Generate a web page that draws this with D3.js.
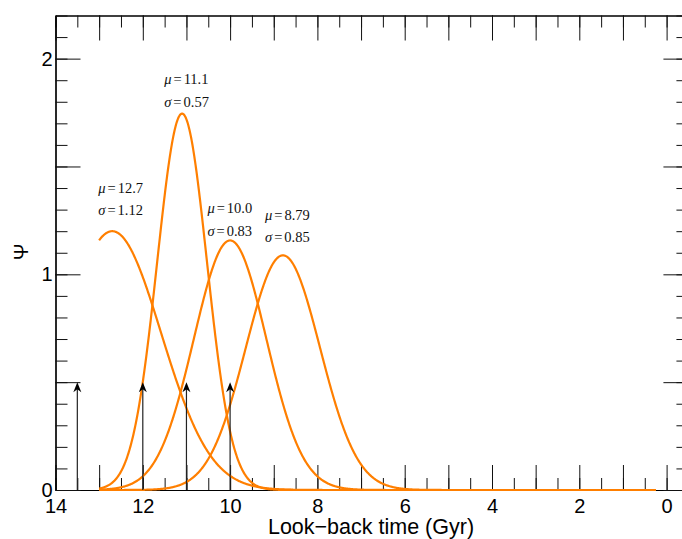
<!DOCTYPE html>
<html>
<head>
<meta charset="utf-8">
<script src="https://cdn.jsdelivr.net/npm/d3@7"></script>
<style>
  body { margin: 0; background: #fff; }
  svg { display: block; }
</style>
</head>
<body>
<svg id="chart" width="682" height="539"></svg>
<script>
// Gaussian star-formation components (look-back time in Gyr)
const mu = [12.7, 11.1, 10.0, 8.79];
const sigma = [1.12, 0.57, 0.83, 0.85];
const peak = [1.20, 1.745, 1.157, 1.088];
const muLabels = ["12.7", "11.1", "10.0", "8.79"];
const sigmaLabels = ["1.12", "0.57", "0.83", "0.85"];

// burst markers
const arrowAges = [13.5, 12, 11, 10];
const arrowHeight = 0.5;

// time span covered by the model curves
const tStart = 13.0;
const tEnd = 0.25;

const xTickLabels = [14, 12, 10, 8, 6, 4, 2, 0];
const yTickLabels = [0, 1, 2];

// annotation anchors (data units: time, Psi of the first text line)
const labelAnchor = [[13.02, 1.378], [11.51, 1.881], [10.52, 1.282], [9.20, 1.254]];

const svg = d3.select("#chart");
const plotLeft = 55.5, plotBottom = 490, plotTop = 15.5;
const pxPerGyr = 43.65;

const x = d3.scaleLinear().domain([14, -0.5]).range([plotLeft, plotLeft + 14.5 * pxPerGyr]);
const y = d3.scaleLinear().domain([0, 2.2]).range([plotBottom, plotTop]);

const xMajor = d3.range(0, 15, 1);
const xMinor = d3.range(-0.5, 14.01, 0.5);
const yMajor = d3.range(0, 2.21, 0.5);
const yMinor = d3.range(0, 2.21, 0.1);

const tickFont = "Liberation Sans, Arial, Helvetica, sans-serif";

function styleAxis(g) {
  g.selectAll("path.domain").attr("stroke", "#000").attr("stroke-width", 1.2);
  g.selectAll(".tick line").attr("stroke", "#111").attr("stroke-width", 1);
  g.selectAll(".tick text").attr("fill", "#000")
    .style("font-family", tickFont).style("font-size", "20px");
}

const xRight = x(-0.5);

// bottom axis
svg.append("g").attr("transform", `translate(0,${plotBottom})`)
  .call(d3.axisBottom(x).tickValues(xMajor).tickSize(-25).tickSizeOuter(0).tickPadding(9)
    .tickFormat(d => xTickLabels.includes(d) ? String(d) : ""))
  .call(styleAxis);
svg.append("g").attr("transform", `translate(0,${plotBottom})`)
  .call(d3.axisBottom(x).tickValues(xMinor).tickSize(-12).tickSizeOuter(0).tickFormat(""))
  .call(styleAxis);

// top axis
svg.append("g").attr("transform", `translate(0,${y(2.2)})`)
  .call(d3.axisTop(x).tickValues(xMajor).tickSize(-25).tickSizeOuter(0).tickFormat(""))
  .call(styleAxis);
svg.append("g").attr("transform", `translate(0,${y(2.2)})`)
  .call(d3.axisTop(x).tickValues(xMinor).tickSize(-12).tickSizeOuter(0).tickFormat(""))
  .call(styleAxis);

// left axis
svg.append("g").attr("transform", `translate(${plotLeft},0)`)
  .call(d3.axisLeft(y).tickValues(yMajor).tickSize(-25).tickSizeOuter(0).tickPadding(3)
    .tickFormat(d => yTickLabels.includes(d) ? String(d) : ""))
  .call(styleAxis);
svg.append("g").attr("transform", `translate(${plotLeft},0)`)
  .call(d3.axisLeft(y).tickValues(yMinor).tickSize(-12).tickSizeOuter(0).tickFormat(""))
  .call(styleAxis);

// right axis
svg.append("g").attr("transform", `translate(${xRight},0)`)
  .call(d3.axisRight(y).tickValues(yMajor).tickSize(-25).tickSizeOuter(0).tickFormat(""))
  .call(styleAxis);
svg.append("g").attr("transform", `translate(${xRight},0)`)
  .call(d3.axisRight(y).tickValues(yMinor).tickSize(-12).tickSizeOuter(0).tickFormat(""))
  .call(styleAxis);

// model curves
const tGrid = d3.range(tStart, tEnd - 1e-9, -0.01);
const line = d3.line().x(d => x(d[0])).y(d => y(d[1]));
mu.forEach((m, i) => {
  const pts = tGrid.map(t => [t, peak[i] * Math.exp(-((t - m) ** 2) / (2 * sigma[i] ** 2))]);
  svg.append("path").datum(pts)
    .attr("d", line)
    .attr("fill", "none")
    .attr("stroke", "#ff7f00")
    .attr("stroke-width", 2.2)
    .attr("stroke-linejoin", "round");
});

// burst arrows
const arrows = svg.append("g");
arrowAges.forEach(a => {
  const ax = x(a), y0 = y(0), y1 = y(arrowHeight);
  arrows.append("line")
    .attr("x1", ax).attr("x2", ax).attr("y1", y0).attr("y2", y1 + 4)
    .attr("stroke", "#222").attr("stroke-width", 1.2);
  arrows.append("path")
    .attr("d", `M${ax},${y1} L${ax - 4},${y1 + 10} L${ax},${y1 + 7} L${ax + 4},${y1 + 10} Z`)
    .attr("fill", "#000");
});

// component annotations
const serif = "Liberation Serif, Times New Roman, serif";
mu.forEach((m, i) => {
  const [lx, ly] = labelAnchor[i];
  const px = x(lx), py = y(ly);
  const t1 = svg.append("text").attr("x", px).attr("y", py)
    .style("font-family", serif).style("font-size", "14.5px").attr("fill", "#111");
  t1.append("tspan").style("font-style", "italic").text("μ");
  t1.append("tspan").attr("dx", 2).text("=");
  t1.append("tspan").attr("dx", 2).text(muLabels[i]);
  const t2 = svg.append("text").attr("x", px).attr("y", py + 22.5)
    .style("font-family", serif).style("font-size", "14.5px").attr("fill", "#111");
  t2.append("tspan").style("font-style", "italic").text("σ");
  t2.append("tspan").attr("dx", 2).text("=");
  t2.append("tspan").attr("dx", 2).text(sigmaLabels[i]);
});

// axis titles
svg.append("text")
  .attr("x", 371).attr("y", 534)
  .attr("text-anchor", "middle")
  .style("font-family", tickFont).style("font-size", "21.5px")
  .text("Look\u2212back time (Gyr)");

svg.append("text")
  .attr("transform", "translate(28,252) rotate(-90)")
  .attr("text-anchor", "middle")
  .style("font-family", tickFont).style("font-size", "20px")
  .text("Ψ");
</script>
</body>
</html>
